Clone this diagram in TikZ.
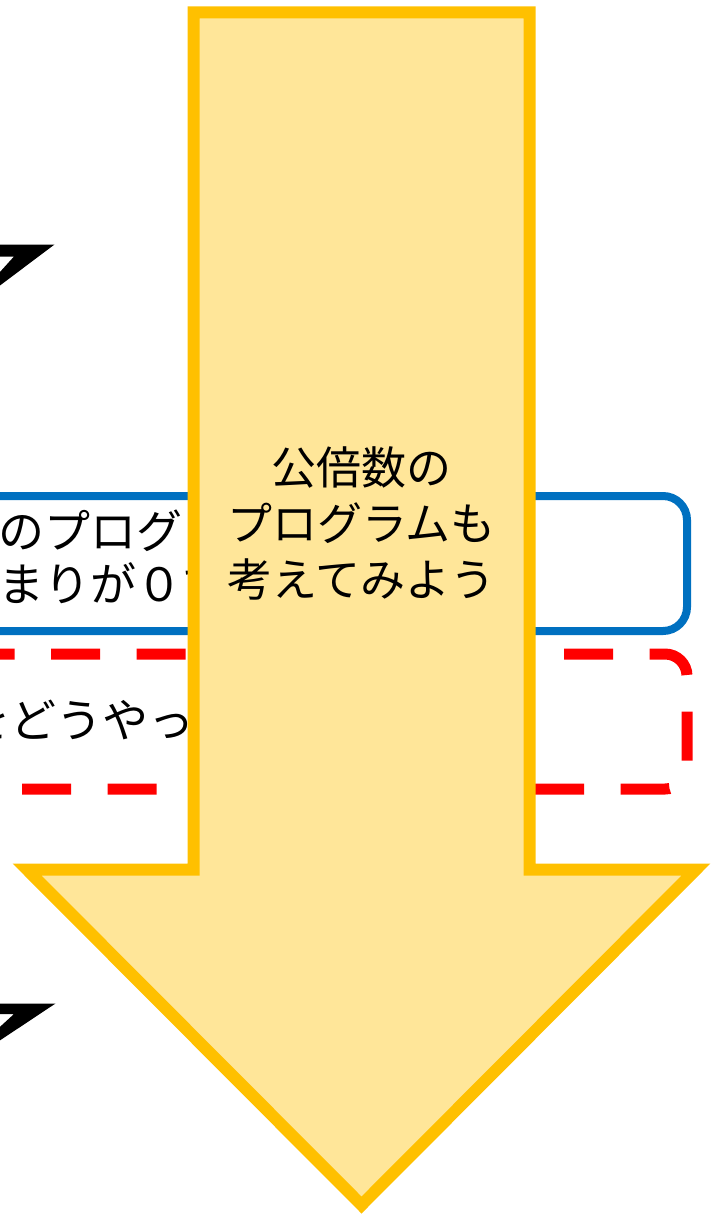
\documentclass[tikz,border=0pt]{standalone}
\usepackage{fontspec}
\newfontfamily\cjk{Noto Sans CJK JP}
\definecolor{arrowfill}{HTML}{FFE699}
\definecolor{arrowline}{HTML}{FFC000}
\definecolor{boxblue}{HTML}{0070C0}
\definecolor{boxred}{HTML}{FF0000}
\begin{document}
\begin{tikzpicture}[x=0.5pt,y=-0.5pt,
  bluebox/.style={draw=boxblue,line width=4pt,rounded corners=12pt},
  redbox/.style={draw=boxred,line width=5.5pt,rounded corners=11pt,dash pattern=on 24.5pt off 18.25pt},
  boxtext/.style={font=\cjk\fontsize{23pt}{25pt}\selectfont,inner sep=0pt,anchor=west},
  bigarrow/.style={fill=arrowfill,draw=arrowline,line width=6pt,miter limit=10},
  arrowtext/.style={font=\cjk\fontsize{22.5pt}{28pt}\selectfont,align=center,inner sep=0pt},
  blackmark/.style={fill=black,even odd rule}
]
\useasboundingbox (0,0) rectangle (712,1214);
\clip (0,0) rectangle (712,1214);
% black marks at the left edge
\path[blackmark] (-10,244.5) -- (54.5,244.5) -- (-10,293) -- cycle
  (-10,256.5) -- (14,256.5) -- (-10,283) -- cycle;
\path[blackmark] (-10,1003.5) -- (55.5,1003.5) -- (-10,1047) -- cycle
  (-10,1014) -- (14,1014) -- (-10,1036) -- cycle;
% blue box
\draw[bluebox] (-200,496) rectangle (687,631);
\node[boxtext] (b1) at (-2,531) {のプログ};
\node[boxtext] (b2) at (-2,583) {まりが０で};
% red dashed box
\draw[redbox] (-120,654) -- (687,654) -- (687,789) -- (-200,789);
\node[boxtext] (r1) at (-36,720) {をどうやって};
% big arrow
\draw[bigarrow] (193.5,12.5) -- (529.5,12.5) -- (529.5,869.5) -- (696,869.5)
  -- (361.5,1205) -- (27,869.5) -- (193.5,869.5) -- cycle;
\node[arrowtext] (t) at (361.5,523) {公倍数の\\プログラムも\\考えてみよう};
\end{tikzpicture}
\end{document}
